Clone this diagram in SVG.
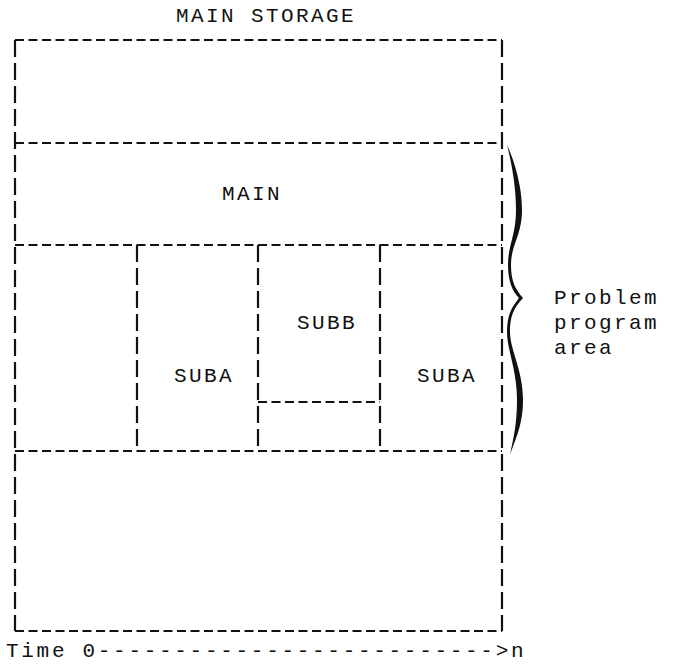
<svg xmlns="http://www.w3.org/2000/svg" width="680" height="665" viewBox="0 0 680 665">
<style>
text{font-family:"Liberation Mono","DejaVu Sans Mono",monospace;font-size:21px;letter-spacing:2.4px;fill:#111}
.h{stroke:#111;stroke-width:2.2;stroke-dasharray:9 4.5;fill:none}
.v{stroke:#111;stroke-width:2.2;stroke-dasharray:17 6;fill:none}
</style>
<rect width="680" height="665" fill="#fff"/>
<text id="title" x="176" y="22">MAIN STORAGE</text>
<g id="connectors">
<line class="h" x1="15" y1="40" x2="502" y2="40"/>
<line class="h" x1="15" y1="143" x2="502" y2="143"/>
<line class="h" x1="15" y1="245" x2="502" y2="245"/>
<line class="h" x1="15" y1="451" x2="502" y2="451"/>
<line class="h" x1="15" y1="631" x2="502" y2="631"/>
<line class="h" x1="258" y1="402" x2="380" y2="402"/>
<line class="v" x1="15" y1="40" x2="15" y2="631"/>
<line class="v" x1="502" y1="40" x2="502" y2="631"/>
<line class="v" x1="137" y1="245" x2="137" y2="451"/>
<line class="v" x1="258" y1="245" x2="258" y2="451"/>
<line class="v" x1="380" y1="245" x2="380" y2="451"/>
</g>
<g id="main"><text x="222" y="200">MAIN</text></g>
<g id="suba1"><text x="174" y="382">SUBA</text></g>
<g id="subb"><text x="297" y="329">SUBB</text></g>
<g id="suba2"><text x="417" y="382">SUBA</text></g>
<g id="brace">
<path d="M507,145 C514,160 522,185 522,210 C522,235 511,245 511,265 C511,282 516,290 523,298 C516,306 510,313 510,332 C510,350 523,370 523,400 C523,425 515,440 510,455 C513,440 517,425 517,400 C517,370 507,350 507,332 C507,312 514,305 519,298 C513,292 508,282 508,265 C508,245 516,235 516,210 C516,185 511,160 507,145 Z" fill="#111"/>
</g>
<g id="label">
<text x="554" y="304">Problem</text>
<text x="554" y="329">program</text>
<text x="554" y="354">area</text>
</g>
<text id="time" x="6" y="657" style="letter-spacing:2.7px">Time 0-------------------------->n</text>
</svg>
